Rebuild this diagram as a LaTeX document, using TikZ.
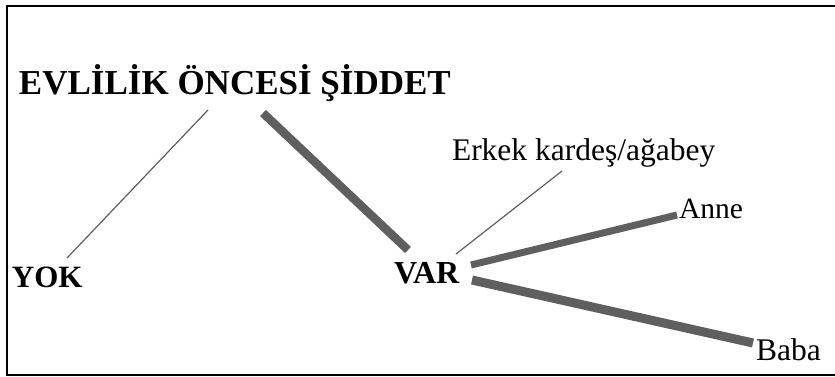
\documentclass[tikz,border=0pt]{standalone}
\usepackage{fontspec}
\setmainfont{Liberation Serif}
\usetikzlibrary{calc}
\definecolor{linegray}{RGB}{95,95,95}
\tikzset{
  lbl/.style={anchor=base west, inner sep=0pt, outer sep=0pt},
  thinline/.style={draw=linegray, line width=1.2pt},
  thickline/.style={draw=linegray, line cap=butt},
}
\begin{document}
\begin{tikzpicture}[x=1pt,y=-1pt]
\useasboundingbox (0,0) rectangle (835,376);
\fill[white] (0,0) rectangle (835,376);
\draw[line width=2pt] (840,6) -- (7,6) -- (7,375) -- (840,375);
\node[lbl, font=\bfseries\fontsize{35}{38}\selectfont] (title) at (19,94) {EVLİLİK ÖNCESİ ŞİDDET};
\node[lbl, font=\bfseries\fontsize{31}{34}\selectfont] (yok) at (12,287) {YOK};
\node[lbl, font=\bfseries\fontsize{32}{35}\selectfont] (var) at (394,283) {VAR};
\node[lbl, font=\fontsize{31.5}{34}\selectfont] (erkek) at (452,160) {Erkek kardeş/ağabey};
\node[lbl, font=\fontsize{29.5}{32}\selectfont] (anne) at (679,218) {Anne};
\node[lbl, font=\fontsize{31.5}{34}\selectfont] (baba) at (756,360) {Baba};
\draw[thinline] ($(title.base west)+(189,16)$) -- ($(yok.base west)+(55,-29)$);
\draw[thickline, line width=8.5pt] ($(title.base west)+(244,19)$) -- ($(var.base west)+(14,-33)$);
\draw[thinline] ($(erkek.base west)+(110,11)$) -- ($(var.base west)+(62,-29)$);
\draw[thickline, line width=7pt] ($(var.base west)+(77,-18)$) -- ($(anne.base west)+(-2,-3)$);
\draw[thickline, line width=9pt] ($(var.base west)+(78,-3)$) -- ($(baba.base west)+(-3,-17)$);
\end{tikzpicture}
\end{document}
